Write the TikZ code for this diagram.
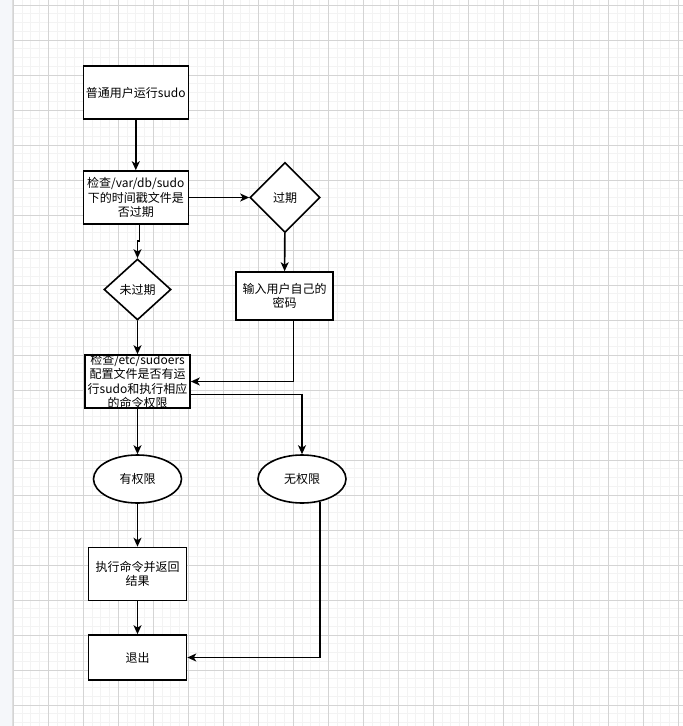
\documentclass[tikz,border=0pt]{standalone}
\usepackage{fontspec}
\setmainfont{Noto Sans CJK SC}
\usetikzlibrary{shapes.geometric,arrows.meta}
\definecolor{stripbg}{RGB}{245,247,250}
\definecolor{minorline}{RGB}{243,243,243}
\definecolor{majorline}{RGB}{212,212,212}

\begin{document}
\begin{tikzpicture}[x=1pt, y=-1pt,
    minorgrid/.style={draw=minorline, line width=0.8pt},
    majorgrid/.style={draw=majorline, line width=0.8pt},
    box/.style={draw, line width=1.6pt, fill=white, rectangle, inner sep=1pt,
        align=center, font=\fontsize{12}{14.5}\selectfont},
    decide/.style={draw, line width=1.6pt, fill=white, diamond, inner sep=0pt,
        font=\fontsize{12}{14.5}\selectfont},
    oval/.style={draw, line width=1.6pt, fill=white, ellipse, inner sep=0pt,
        minimum width=88pt, minimum height=48pt, font=\fontsize{12}{14.5}\selectfont},
    arr/.style={-{Stealth[length=9pt, width=8pt, inset=2.5pt]}, line width=1.6pt}]

    \useasboundingbox (0,0) rectangle (683,726);
    \fill[white] (0,0) rectangle (683,726);

    \foreach \i in {0,...,76} \draw[minorgrid] ({13.3+8.75*\i},0) -- ++(0,726);
    \foreach \j in {-1,...,82} \draw[minorgrid] (13.3,{5+8.75*\j}) -- (683,{5+8.75*\j});
    \foreach \i in {0,...,19} \draw[majorgrid] ({13.3+35*\i},0) -- ++(0,726);
    \foreach \j in {0,...,20} \draw[majorgrid] (13.3,{5+35*\j}) -- (683,{5+35*\j});

    \fill[stripbg] (0,0) rectangle (12.5,726);
    \draw[gray!25, line width=0.8pt] (12.6,0) -- (12.6,726);

    \node[box, minimum width=105pt, minimum height=53pt] (run) at (135.8,92.5) {普通用户运行sudo};
    \node[box, minimum width=105pt, minimum height=53pt] (check) at (135.8,197.5) {检查/var/db/sudo\\下的时间戳文件是\\否过期};
    \node[decide, minimum width=70pt, minimum height=70pt] (expired) at (285,197.5) {过期};
    \node[decide, minimum width=67pt, minimum height=61pt] (notexp) at (137.5,289.5) {未过期};
    \node[box, minimum width=97pt, minimum height=48pt] (pwd) at (284.5,296) {输入用户自己的\\密码};
    \node[box, minimum width=105pt, minimum height=53pt,
        label={[align=center, font=\fontsize{12}{14.5}\selectfont]center:{检查/etc/sudoers\\配置文件是否有运\\行sudo和执行相应\\的命令权限}}] (sudoers) at (137.5,381.5) {};
    \node[oval] (yes) at (137.5,479) {有权限};
    \node[oval] (no) at (302,479) {无权限};
    \node[box, minimum width=98pt, minimum height=53pt] (exec) at (137.5,574) {执行命令并返回\\结果};
    \node[box, minimum width=98pt, minimum height=45pt] (quit) at (137.5,657.5) {退出};

    \draw[arr] (run) -- (check);
    \draw[arr] (check) -- (expired);
    \draw[arr] ([xshift=3.5pt]check.south) -- ++(0,16) -| (notexp.north);
    \draw[arr] (expired) -- (pwd);
    \draw[arr] ([xshift=8.8pt]pwd.south) |- (sudoers.east);
    \draw[arr] (notexp) -- (sudoers);
    \draw[arr] ([yshift=-12.8pt]sudoers.east) -| (no.north);
    \draw[arr] (sudoers) -- (yes);
    \draw[arr] (yes) -- (exec);
    \draw[arr] (exec) -- (quit);
    \draw[arr] (no.-52) |- (quit.east);
\end{tikzpicture}
\end{document}
